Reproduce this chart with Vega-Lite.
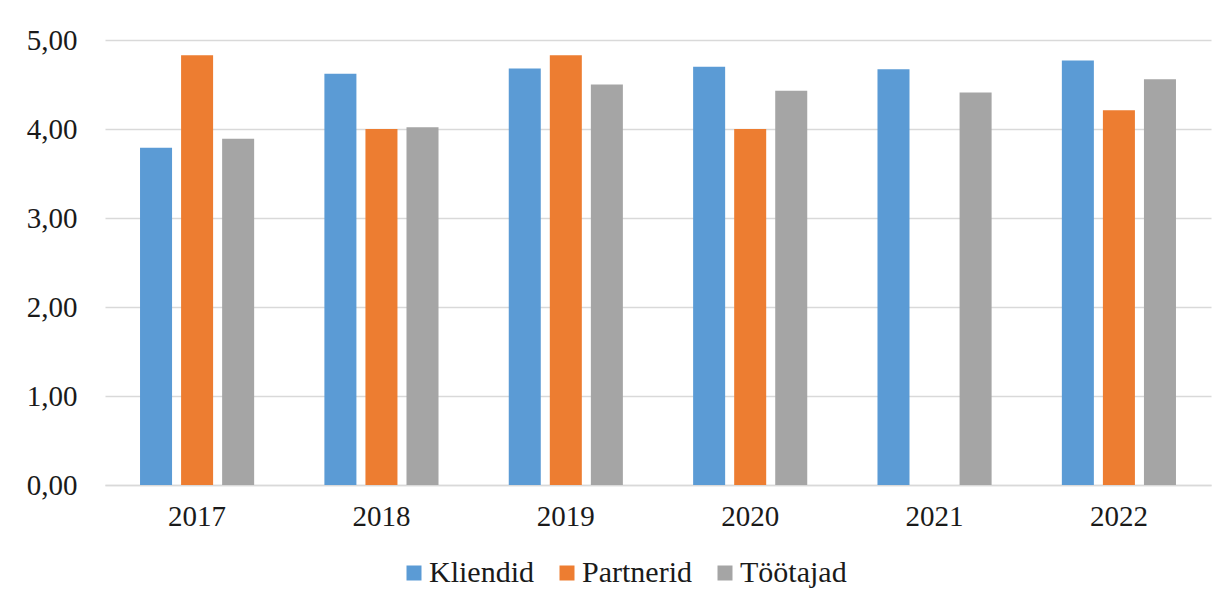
{
  "$schema": "https://vega.github.io/schema/vega-lite/v6.json",
  "width": 1106,
  "height": 445,
  "autosize": {"type": "none"},
  "padding": {"left": 105, "top": 40, "right": 17, "bottom": 121},
  "background": "white",
  "data": {
    "values": [
      {"year": "2017", "group": "Kliendid", "value": 3.79},
      {"year": "2017", "group": "Partnerid", "value": 4.83},
      {"year": "2017", "group": "Töötajad", "value": 3.89},
      {"year": "2018", "group": "Kliendid", "value": 4.62},
      {"year": "2018", "group": "Partnerid", "value": 4.0},
      {"year": "2018", "group": "Töötajad", "value": 4.02},
      {"year": "2019", "group": "Kliendid", "value": 4.68},
      {"year": "2019", "group": "Partnerid", "value": 4.83},
      {"year": "2019", "group": "Töötajad", "value": 4.5},
      {"year": "2020", "group": "Kliendid", "value": 4.7},
      {"year": "2020", "group": "Partnerid", "value": 4.0},
      {"year": "2020", "group": "Töötajad", "value": 4.43},
      {"year": "2021", "group": "Kliendid", "value": 4.67},
      {"year": "2021", "group": "Töötajad", "value": 4.41},
      {"year": "2022", "group": "Kliendid", "value": 4.77},
      {"year": "2022", "group": "Partnerid", "value": 4.21},
      {"year": "2022", "group": "Töötajad", "value": 4.56}
    ]
  },
  "mark": {"type": "bar"},
  "encoding": {
    "x": {
      "field": "year",
      "type": "nominal",
      "scale": {"paddingInner": 0.381, "paddingOuter": 0.19},
      "axis": {
        "title": null,
        "labelAngle": 0,
        "ticks": false,
        "domainColor": "#d9d9d9",
        "domainWidth": 1.5,
        "labelFont": "Liberation Serif",
        "labelFontSize": 29,
        "labelColor": "#1a1a1a",
        "labelPadding": 17
      }
    },
    "xOffset": {
      "field": "group",
      "type": "nominal",
      "scale": {"paddingInner": 0.22, "paddingOuter": 0},
      "sort": ["Kliendid", "Partnerid", "Töötajad"]
    },
    "y": {
      "field": "value",
      "type": "quantitative",
      "scale": {"domain": [0, 5]},
      "axis": {
        "title": null,
        "values": [0, 1, 2, 3, 4, 5],
        "format": ".2f",
        "domain": false,
        "ticks": false,
        "gridColor": "#d9d9d9",
        "gridWidth": 1.5,
        "labelFont": "Liberation Serif",
        "labelFontSize": 29,
        "labelColor": "#1a1a1a",
        "labelPadding": 28
      }
    },
    "color": {
      "field": "group",
      "type": "nominal",
      "scale": {
        "domain": ["Kliendid", "Partnerid", "Töötajad"],
        "range": ["#5B9BD5", "#ED7D31", "#A5A5A5"]
      },
      "legend": {
        "title": null,
        "orient": "none",
        "direction": "horizontal",
        "legendX": 294,
        "legendY": 518,
        "symbolType": "square",
        "symbolSize": 225,
        "symbolStrokeWidth": 0,
        "labelFont": "Liberation Serif",
        "labelFontSize": 30,
        "labelColor": "#1a1a1a",
        "labelOffset": 0,
        "columnPadding": 18
      }
    }
  },
  "config": {
    "view": {"stroke": null},
    "locale": {
      "number": {
        "decimal": ",",
        "thousands": " ",
        "grouping": [3],
        "currency": ["", " €"]
      }
    }
  }
}
